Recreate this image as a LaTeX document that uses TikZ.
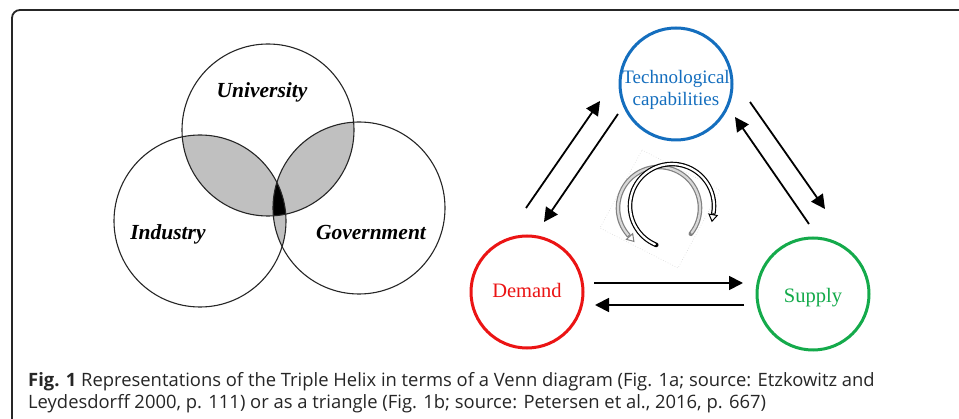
\documentclass[tikz,border=0pt]{standalone}
\usepackage{fontspec}
\setmainfont{Liberation Serif}
\newfontfamily\capfont{Open Sans}
\usetikzlibrary{arrows.meta,calc}
\definecolor{techblue}{RGB}{20,110,190}
\definecolor{demred}{RGB}{235,20,20}
\definecolor{supgreen}{RGB}{20,170,75}
\definecolor{lensgray}{RGB}{192,192,192}
\begin{document}
\begin{tikzpicture}[x=1pt,y=-1pt,
  venn/.style={circle,draw=black!85,line width=1.1pt,minimum size=172pt,inner sep=0pt},
  vlabel/.style={font=\fontsize{21.5}{24}\selectfont\bfseries\itshape,anchor=base,inner sep=0pt},
  tcirc/.style={circle,line width=3pt,minimum size=112pt,inner sep=0pt},
  tlabel/.style={anchor=base,inner sep=0pt},
  arr/.style={line width=1.8pt,-{Triangle[length=14pt,width=14pt]}},
  helixout/.style={line width=4.6pt,line cap=round},
  helixin/.style={line width=2.2pt,line cap=round},
  helixtip/.style={line width=1pt,-{Triangle[length=8pt,width=10pt,fill=white]}},
  captxt/.style={anchor=base west,inner sep=0pt,font=\capfont\fontsize{18.4}{21}\selectfont,text=black!85}
]
\useasboundingbox (0,0) rectangle (959,419);
\fill[white] (0,0) rectangle (959,419);
% frame
\draw[line width=1.8pt,black!85,rounded corners=8pt] (12,425) -- (12,10) -- (965,10);

% ---------- Venn diagram ----------
\coordinate (cu) at (268,130);
\coordinate (ci) at (200,221);
\coordinate (cg) at (359,208);
\begin{scope}
  \clip (cu) circle (86);
  \fill[lensgray] (ci) circle (86);
  \fill[lensgray] (cg) circle (86);
\end{scope}
\begin{scope}
  \clip (ci) circle (86);
  \fill[lensgray] (cg) circle (86);
\end{scope}
\begin{scope}
  \clip (cu) circle (86);
  \clip (ci) circle (86);
  \fill[black] (cg) circle (86);
\end{scope}
\node[venn] (uni) at (cu) {};
\node[venn] (ind) at (ci) {};
\node[venn] (gov) at (cg) {};
\node[vlabel] (unil) at (262,98) {University};
\node[vlabel] (indl) at (168,240) {Industry};
\node[vlabel] (govl) at (371,240) {Government};

% ---------- Triangle ----------
\node[tlabel,text=techblue,font=\fontsize{19}{22}\selectfont] (techa) at (676,84) {Technological};
\node[tlabel,text=techblue,font=\fontsize{19}{22}\selectfont] (techb) at (676,106) {capabilities};
\node[tcirc,draw=techblue] (tech) at (676,84) {};
\node[tcirc,draw=demred] (dem) at (527,292) {};
\node[tcirc,draw=supgreen] (sup) at (813,294) {};
\node[tlabel,text=demred,font=\fontsize{20.5}{23}\selectfont] (deml) at (527,298) {Demand};
\node[tlabel,text=supgreen,font=\fontsize{20.5}{23}\selectfont] (supl) at (813,303) {Supply};

\coordinate (a1s) at (526,208); \coordinate (a1e) at (600,101);
\coordinate (a2s) at (618,114); \coordinate (a2e) at (544,222);
\coordinate (a3s) at (750,102); \coordinate (a3e) at (825,209);
\coordinate (a4s) at (809,224); \coordinate (a4e) at (735,117);
\coordinate (a5s) at (594,283); \coordinate (a5e) at (743,283);
\coordinate (a6s) at (744,305); \coordinate (a6e) at (595,305);
\draw[arr] (a1s) -- (a1e);
\draw[arr] (a2s) -- (a2e);
\draw[arr] (a3s) -- (a3e);
\draw[arr] (a4s) -- (a4e);
\draw[arr] (a5s) -- (a5e);
\draw[arr] (a6s) -- (a6e);

% faint frame around helix
\draw[gray!30,dotted,line width=0.6pt] (642,150) -- (720,190) -- (678,268) -- (600,228) -- cycle;
% gray helix arc
\coordinate (gc) at (659,208);
\draw[helixout,gray] ($(gc)+(39:41)$) arc[start angle=39,end angle=-222,radius=41];
\draw[helixin,gray!30] ($(gc)+(37:41)$) arc[start angle=37,end angle=-222,radius=41];
\draw[helixtip,gray] ($(gc)+(-222:41)$) coordinate (gend) -- ++(0.669*9,0.743*9);
% black helix arc
\coordinate (bc) at (672,206);
\draw[helixout,black] ($(bc)+(112:42)$) arc[start angle=112,end angle=370,radius=42];
\draw[helixin,white] ($(bc)+(114:42)$) arc[start angle=114,end angle=370,radius=42];
\draw[helixtip,black] ($(bc)+(370:42)$) coordinate (bend) -- ++(-0.174*9,0.985*9);

% ---------- caption ----------
\node[captxt] (cap1) at (28,387) {\textbf{Fig. 1} Representations of the Triple Helix in terms of a Venn diagram (Fig. 1a; source: Etzkowitz and};
\node[captxt] (cap2) at (28,409) {Leydesdorff 2000, p. 111) or as a triangle (Fig. 1b; source: Petersen et al., 2016, p. 667)};
\end{tikzpicture}
\end{document}
